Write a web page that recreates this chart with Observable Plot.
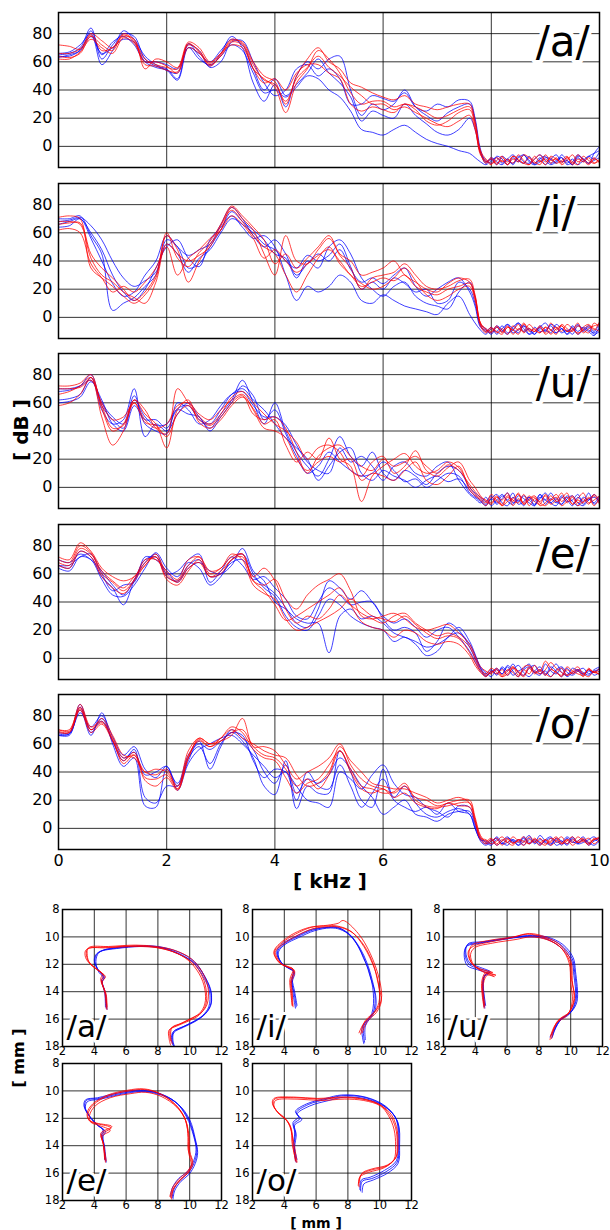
<!DOCTYPE html>
<html><head><meta charset="utf-8">
<script src="https://cdn.jsdelivr.net/npm/d3@7"></script>
<script src="https://cdn.jsdelivr.net/npm/@observablehq/plot@0.6"></script>
<style>
body{margin:0;background:#fff;font-family:"DejaVu Sans",sans-serif;}
#root{position:relative;width:610px;height:1230px;overflow:hidden;background:#fff;}
.lbl{position:absolute;font-weight:bold;color:#000;white-space:nowrap;line-height:1;font-family:"DejaVu Sans",sans-serif;}
</style></head><body><div id="root">
<div class="lbl" style="left:330px;top:881px;transform:translate(-50%,-50%);font-size:20px">[ kHz ]</div>
<div class="lbl" style="left:21px;top:430px;transform:translate(-50%,-50%) rotate(-90deg);font-size:20px">[ dB ]</div>
<div class="lbl" style="left:316px;top:1222.5px;transform:translate(-50%,-50%);font-size:14px">[ mm ]</div>
<div class="lbl" style="left:19px;top:1058px;transform:translate(-50%,-50%) rotate(-90deg);font-size:16px">[ mm ]</div>
</div><script>
// ---------- spectra: frequency grid (kHz) ----------
const freqs = [0,0.2,0.4,0.6,0.8,1,1.2,1.4,1.6,1.8,2,2.2,2.4,2.6,2.8,3,3.2,3.4,3.6,3.8,4,4.2,4.4,4.6,4.8,5,5.2,5.4,5.6,5.8,6,6.2,6.4,6.6,6.8,7,7.2,7.4,7.6,7.7,7.8,7.9,8,8.1,8.2,8.3,8.4,8.5,8.6,8.7,8.8,8.9,9,9.1,9.2,9.3,9.4,9.5,9.6,9.7,9.8,9.9,10];
const dbTicks = [0,20,40,60,80];
const kHzTicks = [0,2,4,6,8,10];
const mmXTicks = [2,4,6,8,10,12];
const mmYTicks = [8,10,12,14,16,18];
const vowelLabels = {a:"/a/", i:"/i/", u:"/u/", e:"/e/", o:"/o/"};

// ---------- /a/ ----------
const a_blue = [
[65,66,70,84,62,72,80,78,62,57,55,48,73,64,57,66,78,70,45,32,44,28,50,60,55,62,64,40,22,30,26,30,40,28,22,18,24,28,30,18,-4,-10,-12,-7,-9,-13,-8,-11,-6,-10,-12,-8,-13,-9,-6,-11,-10,-13,-7,-9,-12,-5,0],
[64,64,68,78,66,70,76,74,60,56,54,47,70,62,58,64,72,68,52,38,40,35,42,50,48,40,35,25,12,10,8,12,15,10,5,2,0,-3,-5,-8,-11,-13,-10,-8,-12,-9,-13,-7,-11,-12,-9,-6,-10,-13,-11,-8,-12,-9,-13,-10,-7,-9,-4],
[66,67,72,80,58,68,82,76,64,58,54,52,72,68,56,60,74,75,60,45,36,40,55,58,50,55,48,30,30,36,34,32,38,28,25,30,28,33,32,20,-2,-11,-9,-13,-7,-10,-12,-8,-6,-11,-13,-9,-7,-12,-10,-8,-13,-11,-6,-9,-12,-10,-8],
[63,65,68,82,65,74,78,72,60,60,58,55,70,66,60,68,76,72,55,40,48,36,44,52,62,52,45,35,18,25,22,20,30,22,16,10,8,12,20,12,-5,-12,-8,-11,-13,-9,-6,-10,-12,-7,-13,-11,-8,-9,-12,-6,-10,-13,-8,-11,-7,-5,-3]];
const a_red = [
[72,71,69,80,75,70,78,76,55,62,60,56,74,70,60,66,75,74,60,50,46,30,50,62,70,60,55,45,42,38,35,33,36,30,28,26,28,30,30,18,-3,-9,-12,-10,-7,-13,-9,-11,-6,-8,-12,-10,-13,-7,-9,-11,-8,-12,-6,-10,-13,-9,-11],
[64,63,66,78,72,68,80,75,62,58,56,55,72,68,58,64,74,72,55,48,42,24,45,55,68,62,52,38,30,32,32,28,30,28,24,20,22,26,28,16,-4,-12,-9,-13,-8,-11,-7,-10,-12,-13,-9,-6,-11,-8,-12,-10,-7,-13,-9,-11,-8,-12,-10],
[62,62,67,76,70,66,77,73,60,60,57,52,70,66,59,66,72,70,55,45,48,40,52,58,58,52,48,30,25,28,26,24,30,26,18,15,18,24,26,14,-6,-10,-13,-8,-11,-9,-12,-6,-10,-13,-7,-11,-9,-12,-8,-13,-10,-6,-11,-9,-12,-8,-12],
[66,66,69,79,68,70,79,74,58,57,54,53,73,67,57,65,76,73,58,47,44,32,48,56,64,56,50,42,36,30,30,26,28,24,20,16,14,18,22,12,-5,-11,-8,-12,-10,-13,-7,-9,-12,-8,-11,-13,-6,-10,-9,-12,-8,-11,-13,-7,-10,-12,-9]];

// ---------- /i/ ----------
const i_blue = [
[70,70,72,58,45,5,10,14,22,30,55,50,35,38,50,62,75,68,62,55,45,42,28,40,35,50,55,45,28,20,15,22,25,15,10,8,6,18,25,14,-5,-8,-11,-6,-9,-12,-7,-4,-10,-8,-12,-6,-9,-11,-5,-8,-10,-7,-12,-9,-6,-10,-4],
[68,69,71,65,55,40,28,22,26,32,52,45,32,42,48,60,70,66,60,52,48,40,35,44,40,44,52,36,20,25,20,28,24,18,20,10,12,25,20,10,-6,-10,-7,-12,-8,-5,-11,-9,-6,-12,-10,-7,-4,-9,-11,-8,-12,-6,-10,-7,-9,-11,-8],
[66,68,70,60,48,30,18,12,20,35,50,55,42,36,55,64,72,64,56,58,50,30,12,22,18,22,30,25,12,10,16,12,8,6,4,2,10,15,2,-4,-9,-12,-8,-10,-6,-11,-9,-4,-8,-12,-7,-10,-9,-6,-11,-8,-12,-9,-5,-10,-7,-12,-10],
[64,65,70,56,40,24,15,18,30,40,58,50,44,48,52,66,78,70,58,50,55,45,30,38,45,40,48,34,25,28,24,30,35,22,15,20,25,28,18,8,-7,-9,-12,-7,-10,-5,-8,-11,-6,-9,-12,-8,-10,-5,-7,-11,-9,-12,-6,-8,-10,-13,-6]];
const i_red = [
[71,72,70,35,28,22,15,10,16,28,58,48,25,40,52,62,78,70,62,45,30,58,40,38,48,56,44,35,20,28,30,32,38,30,22,20,22,26,27,16,-4,-8,-10,-6,-11,-7,-9,-12,-5,-8,-10,-7,-11,-4,-9,-6,-10,-8,-12,-7,-5,-9,-3],
[68,68,66,42,30,25,18,14,10,25,52,45,40,44,50,65,76,68,58,50,45,30,18,30,42,50,38,30,22,25,28,26,30,22,18,16,20,22,24,14,-5,-10,-7,-11,-8,-12,-6,-9,-4,-10,-8,-11,-7,-9,-12,-5,-8,-10,-6,-9,-11,-4,-7],
[66,67,67,45,35,28,20,12,18,30,60,42,36,46,54,66,79,72,64,55,38,45,35,42,50,58,45,40,30,32,35,40,30,25,20,18,24,28,25,15,-4,-9,-11,-7,-10,-6,-12,-8,-10,-5,-9,-11,-7,-12,-8,-6,-10,-9,-4,-11,-8,-6,-5],
[62,63,60,38,28,18,22,18,25,35,50,30,42,48,56,62,72,66,56,42,48,40,32,38,44,48,40,30,24,20,22,28,35,26,16,12,15,20,22,12,-6,-11,-8,-10,-12,-7,-9,-5,-11,-8,-10,-6,-12,-9,-7,-10,-5,-8,-11,-9,-6,-8,-10]];

// ---------- /u/ ----------
const u_blue = [
[62,63,66,78,55,45,48,70,36,45,40,52,60,50,42,52,62,76,60,45,60,40,25,15,8,20,36,22,15,25,10,5,12,8,2,10,15,12,0,-4,-7,-10,-6,-12,-8,-4,-11,-9,-13,-7,-10,-5,-12,-8,-11,-6,-9,-13,-7,-10,-4,-12,-8],
[68,69,72,80,58,48,42,62,50,44,45,56,58,48,45,55,66,70,62,55,45,35,28,20,5,15,25,28,10,5,12,8,5,0,5,8,4,6,-2,-6,-9,-12,-8,-5,-11,-13,-7,-10,-6,-9,-12,-8,-4,-11,-13,-7,-10,-9,-5,-12,-8,-11,-6],
[70,70,72,76,60,50,45,65,45,40,38,60,55,45,48,58,66,68,58,50,50,44,30,18,12,10,28,18,22,15,5,15,18,10,8,15,18,5,-5,-8,-11,-7,-13,-9,-5,-10,-12,-6,-8,-11,-13,-7,-9,-4,-10,-12,-8,-6,-11,-13,-9,-7,-10],
[60,61,64,75,62,45,40,58,48,48,42,55,52,50,40,50,60,72,65,48,55,38,22,10,15,25,18,12,8,10,18,12,4,6,0,5,10,8,-4,-7,-10,-13,-8,-11,-6,-9,-4,-12,-10,-7,-13,-5,-9,-11,-8,-12,-6,-10,-13,-7,-9,-5,-11]];
const u_red = [
[58,60,66,78,50,30,40,62,52,45,28,55,62,46,42,48,58,64,56,45,48,30,18,25,20,35,20,15,-10,8,15,20,24,15,10,12,18,14,0,-5,-8,-11,-5,-9,-13,-7,-10,-4,-12,-8,-6,-11,-13,-9,-5,-10,-7,-12,-8,-4,-11,-9,-6],
[72,72,74,80,56,40,45,62,55,42,38,70,60,50,45,52,64,68,60,52,45,40,32,20,28,30,25,12,8,18,22,10,15,26,12,8,14,18,5,0,-6,-10,-12,-7,-9,-4,-13,-8,-11,-6,-10,-12,-5,-9,-7,-13,-10,-6,-11,-8,-12,-5,-9],
[70,70,71,76,60,48,50,60,48,42,45,58,60,52,48,55,62,66,55,42,40,35,20,12,18,22,18,20,5,10,8,5,12,18,5,2,8,15,-2,-6,-9,-13,-7,-10,-12,-6,-9,-11,-5,-13,-8,-10,-6,-12,-9,-4,-11,-7,-13,-10,-8,-6,-12],
[66,68,72,78,58,42,44,60,46,44,36,52,58,48,44,50,60,65,52,48,50,42,25,10,22,28,30,22,15,12,20,15,18,22,15,10,16,12,2,-3,-7,-9,-11,-6,-13,-10,-8,-5,-12,-9,-7,-13,-11,-6,-10,-8,-4,-12,-9,-11,-7,-13,-8]];

// ---------- /e/ ----------
const e_blue = [
[66,64,76,72,58,50,38,55,68,74,60,62,70,74,54,62,72,66,56,58,50,42,30,28,40,50,45,38,40,40,28,20,22,18,5,12,25,20,8,0,-7,-11,-8,-12,-6,-9,-4,-10,-12,-7,-5,-11,-9,-13,-8,-6,-10,-12,-9,-7,-11,-8,-6],
[70,68,74,70,62,52,45,56,70,72,58,55,66,70,58,60,68,70,58,52,46,36,25,22,35,55,50,42,48,40,30,25,28,22,15,20,22,15,5,-2,-9,-12,-10,-7,-11,-5,-9,-13,-8,-6,-10,-12,-4,-9,-11,-7,-13,-10,-8,-12,-9,-10,-7],
[66,66,72,74,60,48,52,54,72,70,62,54,64,68,62,60,66,78,62,55,40,35,28,25,25,4,30,35,28,30,25,18,15,12,8,10,15,22,12,3,-6,-10,-13,-8,-11,-6,-12,-9,-7,-4,-10,-8,-12,-6,-9,-13,-7,-11,-8,-10,-12,-9,-8],
[64,62,72,70,56,45,44,52,64,75,64,58,68,64,52,58,70,74,60,50,44,30,22,20,30,42,38,30,25,22,20,12,15,10,2,5,15,18,10,2,-7,-13,-9,-11,-7,-12,-8,-5,-10,-13,-9,-6,-11,-8,-4,-10,-12,-7,-9,-11,-8,-12,-10]];
const e_red = [
[72,70,82,76,64,58,55,58,68,72,58,55,66,72,60,64,72,74,55,52,56,42,35,45,52,56,60,48,30,28,30,32,28,22,20,22,24,18,10,2,-6,-9,-11,-7,-12,-8,-10,-13,-6,-5,-9,-11,-8,-3,-7,-10,-12,-9,-6,-11,-8,-10,-7],
[68,66,78,74,62,55,50,58,66,74,60,54,64,68,58,62,70,74,58,64,55,35,25,30,28,35,45,38,32,28,25,30,32,25,20,16,18,15,8,0,-8,-11,-7,-10,-13,-9,-6,-12,-8,-11,-5,-9,-2,-7,-10,-12,-8,-11,-9,-13,-7,-10,-9],
[70,68,80,75,60,54,48,56,70,70,62,56,70,72,62,64,74,70,52,46,42,28,20,22,26,30,35,42,36,30,28,26,30,24,18,14,16,14,4,-3,-9,-12,-10,-8,-13,-11,-7,-9,-12,-6,-10,-8,-11,-13,-9,-7,-12,-10,-8,-11,-13,-9,-12],
[66,64,76,72,58,50,46,55,66,72,56,52,62,70,58,60,70,72,55,48,38,27,30,35,40,45,50,38,26,22,20,15,20,18,12,10,12,10,2,-5,-10,-13,-9,-11,-8,-12,-6,-10,-13,-7,-11,-9,-12,-8,-10,-13,-6,-9,-11,-12,-8,-10,-11]];

// ---------- /o/ ----------
const o_blue = [
[66,66,86,68,78,62,48,56,22,18,30,30,50,58,46,60,68,62,50,30,24,48,14,30,25,25,55,40,20,15,42,22,30,18,10,8,12,14,10,0,-8,-11,-8,-12,-9,-6,-10,-8,-12,-7,-10,-5,-9,-11,-8,-12,-7,-10,-9,-6,-11,-8,-10],
[67,67,84,66,82,60,44,50,16,15,42,32,52,60,56,62,68,66,48,36,42,40,30,20,18,15,40,35,28,38,45,32,24,22,15,12,8,16,15,4,-7,-10,-12,-8,-11,-7,-9,-12,-6,-10,-8,-11,-9,-7,-12,-10,-6,-9,-11,-8,-10,-12,-9],
[68,68,88,70,76,62,50,54,38,40,44,30,48,62,42,58,70,64,56,40,32,45,25,35,32,38,50,42,30,22,10,15,20,10,8,5,10,12,12,2,-9,-12,-9,-7,-11,-10,-8,-12,-9,-5,-11,-8,-10,-12,-7,-9,-11,-6,-10,-8,-12,-9,-7],
[66,67,82,72,80,65,52,58,42,36,44,27,46,56,60,64,66,60,52,44,36,40,20,40,30,28,45,30,15,25,35,20,15,12,15,10,18,12,10,0,-8,-9,-11,-6,-10,-12,-8,-10,-7,-11,-9,-12,-8,-6,-10,-9,-12,-7,-11,-10,-8,-6,-9]];
const o_red = [
[70,69,88,72,76,64,50,52,40,38,42,28,50,64,60,62,66,78,58,58,55,45,35,40,44,50,60,45,35,30,28,25,30,22,20,16,18,20,20,8,-5,-9,-7,-11,-8,-10,-6,-9,-12,-8,-10,-7,-11,-9,-6,-10,-8,-12,-9,-7,-10,-8,-6],
[70,70,86,70,78,66,52,50,40,42,40,30,55,64,60,64,70,64,60,55,52,50,38,30,32,40,58,48,40,32,30,28,28,25,22,18,20,22,18,6,-6,-10,-8,-12,-9,-7,-11,-8,-10,-6,-9,-12,-8,-10,-7,-11,-9,-6,-10,-8,-12,-7,-9],
[68,68,84,68,74,62,48,54,36,35,38,28,52,62,58,62,68,70,58,52,50,42,30,35,28,38,55,42,30,28,25,26,32,20,16,15,16,18,18,6,-7,-8,-11,-9,-6,-10,-12,-8,-9,-11,-7,-10,-8,-12,-9,-6,-11,-8,-10,-9,-7,-11,-8],
[69,68,85,70,75,63,46,52,34,30,36,27,50,63,58,64,72,68,56,50,48,36,25,32,35,45,55,40,28,25,28,22,25,18,15,14,18,16,15,4,-8,-11,-9,-7,-12,-8,-10,-9,-6,-11,-8,-10,-12,-7,-9,-11,-8,-10,-6,-9,-11,-8,-7]];

// ---------- tongue contours [x mm, y mm] ----------
const ta_blue = [
[[4.8,15.3],[4.7,14.2],[4.5,13.3],[4.6,13.0],[4.3,12.6],[4.15,12.2],[4.1,11.8],[4.2,11.3],[4.5,11.0],[5.5,10.8],[6.8,10.65],[8.0,10.7],[9.3,11.1],[10.3,11.8],[10.9,12.8],[11.3,13.9],[11.35,14.9],[11.0,15.6],[10.4,16.1],[9.7,16.5],[9.0,16.9],[8.9,17.5],[9.0,18.0]],
[[4.7,15.1],[4.65,14.0],[4.45,13.2],[4.55,12.9],[4.25,12.4],[4.05,12.0],[4.05,11.6],[4.2,11.2],[4.6,10.95],[5.6,10.75],[7.0,10.7],[8.2,10.8],[9.4,11.3],[10.4,12.0],[11.0,13.0],[11.35,14.0],[11.3,15.0],[10.9,15.7],[10.3,16.2],[9.6,16.6],[9.0,17.0],[8.95,17.6],[9.05,18.0]],
[[4.75,15.2],[4.7,14.1],[4.5,13.25],[4.65,12.95],[4.3,12.5],[4.1,12.1],[4.0,11.7],[4.1,11.3],[4.4,11.05],[5.4,10.85],[6.9,10.7],[8.1,10.75],[9.2,11.15],[10.2,11.85],[10.85,12.9],[11.25,14.0],[11.2,15.1],[10.8,15.75],[10.2,16.2],[9.5,16.6],[8.95,16.95],[8.85,17.5],[8.95,17.9]]];
const ta_red = [
[[4.8,15.3],[4.7,14.1],[4.45,13.2],[4.6,12.8],[4.2,12.4],[3.9,12.1],[3.6,11.7],[3.5,11.1],[3.7,10.75],[4.9,10.7],[6.6,10.6],[7.9,10.7],[9.1,11.0],[10.1,11.6],[10.8,12.6],[11.15,13.7],[11.1,14.9],[10.75,15.5],[10.2,15.9],[9.5,16.3],[8.9,16.6],[8.8,17.3],[8.9,17.8]],
[[4.75,15.2],[4.65,14.0],[4.4,13.1],[4.5,12.7],[4.1,12.3],[3.75,12.0],[3.45,11.5],[3.45,11.0],[3.8,10.8],[5.0,10.75],[6.5,10.65],[7.8,10.75],[9.0,11.1],[9.9,11.7],[10.6,12.7],[10.95,13.8],[10.95,14.9],[10.6,15.6],[10.0,16.0],[9.3,16.4],[8.8,16.7],[8.75,17.2],[8.8,17.6]],
[[4.8,15.1],[4.75,14.2],[4.5,13.3],[4.7,12.9],[4.3,12.5],[3.95,12.2],[3.65,11.8],[3.55,11.2],[3.6,10.85],[4.7,10.8],[6.7,10.7],[8.0,10.8],[9.2,11.2],[10.2,11.9],[10.8,12.9],[11.05,14.0],[11.0,15.0],[10.6,15.7],[10.0,16.1],[9.2,16.5],[8.7,16.8],[8.7,17.4],[8.8,17.9]]];
const ti_blue = [
[[4.75,15.1],[4.6,14.0],[4.45,13.2],[4.6,12.5],[4.3,12.3],[3.9,12.0],[3.6,11.4],[3.6,11.0],[4.0,10.5],[4.8,10.0],[5.8,9.5],[6.8,9.3],[7.4,9.35],[8.1,9.8],[8.65,10.7],[9.0,11.6],[9.3,12.4],[9.6,14.1],[9.5,15.6],[8.9,16.6],[9.0,17.8]],
[[4.7,15.2],[4.55,14.1],[4.5,13.3],[4.65,12.6],[4.35,12.35],[3.95,12.05],[3.65,11.5],[3.65,11.05],[4.05,10.55],[4.9,10.05],[5.9,9.55],[6.9,9.35],[7.5,9.45],[8.2,9.95],[8.8,10.9],[9.2,11.9],[9.45,12.8],[9.7,14.2],[9.6,15.5],[9.0,16.5],[9.05,17.7]],
[[4.8,15.0],[4.65,14.0],[4.5,13.1],[4.55,12.45],[4.25,12.25],[3.85,11.95],[3.55,11.35],[3.55,10.95],[3.95,10.45],[4.75,9.95],[5.75,9.45],[6.75,9.3],[7.35,9.3],[8.0,9.75],[8.6,10.6],[9.1,11.8],[9.4,12.9],[9.75,14.3],[9.7,15.4],[9.1,16.5],[9.1,17.5]]];
const ti_red = [
[[4.5,15.0],[4.45,14.0],[4.4,13.2],[4.6,12.4],[4.25,12.2],[3.76,11.95],[3.4,11.3],[3.4,11.0],[3.9,10.4],[4.7,9.8],[5.7,9.3],[6.7,9.15],[7.4,9.0],[7.7,8.8],[8.65,9.75],[9.4,11.2],[10.0,13.2],[10.1,14.6],[9.75,15.4],[9.1,16.1],[8.8,17.1]],
[[4.55,15.1],[4.5,14.1],[4.45,13.3],[4.65,12.5],[4.3,12.25],[3.85,12.0],[3.5,11.4],[3.45,11.05],[3.95,10.5],[4.8,9.9],[5.8,9.4],[6.8,9.25],[7.5,9.3],[8.3,9.7],[9.0,10.6],[9.6,12.0],[9.9,13.4],[10.1,14.7],[9.8,15.5],[9.2,16.2],[8.9,17.0]],
[[4.5,15.0],[4.4,14.0],[4.35,13.1],[4.55,12.35],[4.2,12.15],[3.7,11.9],[3.35,11.25],[3.4,10.9],[3.85,10.35],[4.6,9.75],[5.6,9.3],[6.6,9.2],[7.3,9.2],[8.2,9.6],[9.0,10.7],[9.7,12.4],[9.95,13.6],[9.95,14.8],[9.6,15.6],[9.0,16.3],[8.7,17.0]]];
const tu_blue = [
[[4.6,15.2],[4.5,13.4],[4.6,12.8],[4.9,12.6],[4.2,12.3],[3.6,12.0],[3.35,11.2],[3.5,10.6],[4.45,10.4],[5.8,10.15],[7.2,9.95],[8.4,10.05],[9.4,10.6],[10.1,11.6],[10.25,12.6],[10.35,14.6],[10.0,15.5],[9.4,16.0],[9.0,16.8],[8.8,17.4]],
[[4.55,15.1],[4.45,13.5],[4.55,12.9],[4.8,12.7],[4.15,12.4],[3.5,12.1],[3.3,11.3],[3.45,10.7],[4.4,10.45],[5.7,10.2],[7.1,10.0],[8.3,10.1],[9.3,10.7],[10.05,11.7],[10.2,12.8],[10.3,14.5],[9.95,15.6],[9.3,16.1],[8.9,16.9],[8.7,17.3]],
[[4.65,15.0],[4.5,13.3],[4.65,12.7],[4.95,12.55],[4.25,12.2],[3.65,11.9],[3.4,11.1],[3.55,10.5],[4.5,10.35],[5.9,10.1],[7.3,9.9],[8.5,10.0],[9.5,10.55],[10.15,11.5],[10.3,12.5],[10.4,14.7],[10.05,15.45],[9.5,15.9],[9.05,16.6],[8.85,17.3]]];
const tu_red = [
[[4.57,15.1],[4.45,13.4],[4.7,12.7],[5.3,12.8],[4.3,12.4],[3.8,11.95],[3.6,11.2],[3.8,10.6],[4.9,10.25],[6.4,10.0],[7.4,9.75],[8.4,10.0],[9.35,10.6],[10.0,11.7],[10.1,13.2],[10.2,14.6],[9.85,15.6],[9.2,16.1],[8.9,16.8],[8.75,17.2]],
[[4.6,15.0],[4.5,13.5],[4.75,12.8],[5.2,12.9],[4.4,12.5],[3.9,12.05],[3.7,11.3],[3.95,10.8],[5.1,10.45],[6.5,10.2],[7.5,10.0],[8.5,10.2],[9.4,10.8],[9.9,11.9],[10.0,13.3],[10.1,14.7],[9.8,15.7],[9.1,16.3],[8.8,17.0],[8.7,17.5]],
[[4.55,15.2],[4.4,13.3],[4.65,12.6],[5.1,12.6],[4.25,12.3],[3.75,11.9],[3.55,11.1],[3.85,10.7],[5.0,10.35],[6.3,10.05],[7.3,9.8],[8.3,10.05],[9.3,10.7],[9.95,11.8],[10.05,13.1],[10.25,14.5],[9.9,15.5],[9.3,16.0],[8.95,16.7],[8.8,17.4]]];
const te_blue = [
[[4.7,15.1],[4.6,14.0],[4.5,13.3],[4.6,12.9],[4.2,12.5],[3.8,12.0],[3.4,11.2],[3.5,10.7],[4.3,10.55],[5.6,10.2],[6.9,10.0],[8.1,10.2],[9.2,10.9],[9.9,12.0],[10.3,13.4],[10.45,14.4],[10.3,15.2],[9.9,16.0],[9.4,16.5],[9.0,17.2],[8.9,17.8]],
[[4.75,15.2],[4.65,14.1],[4.55,13.35],[4.7,12.95],[4.25,12.55],[3.85,12.05],[3.45,11.3],[3.55,10.8],[4.4,10.6],[5.7,10.25],[7.0,10.05],[8.2,10.3],[9.3,11.0],[10.0,12.1],[10.35,13.5],[10.5,14.5],[10.35,15.3],[9.95,16.1],[9.45,16.6],[9.05,17.3],[8.95,17.9]],
[[4.65,15.0],[4.6,13.9],[4.45,13.2],[4.55,12.85],[4.15,12.45],[3.75,11.95],[3.35,11.1],[3.45,10.65],[4.2,10.5],[5.5,10.15],[6.8,9.95],[8.0,10.15],[9.1,10.8],[9.8,11.9],[10.25,13.3],[10.4,14.3],[10.25,15.1],[9.85,15.9],[9.3,16.4],[8.9,17.1],[8.8,17.7]]];
const te_red = [
[[4.7,15.2],[4.57,13.9],[4.45,13.2],[5.06,12.7],[4.2,12.4],[3.7,12.2],[3.6,11.7],[3.96,11.0],[4.9,10.35],[6.2,10.0],[7.15,9.9],[8.1,10.2],[9.1,11.0],[9.7,12.0],[9.95,13.2],[10.0,14.4],[10.2,15.3],[9.95,15.9],[9.5,16.4],[9.0,17.1],[8.85,17.9]],
[[4.75,15.1],[4.6,14.0],[4.5,13.3],[5.0,12.9],[4.25,12.5],[3.8,12.3],[3.7,11.8],[4.05,11.1],[5.0,10.5],[6.3,10.2],[7.2,10.1],[8.2,10.4],[9.2,11.2],[9.75,12.2],[9.9,13.4],[9.95,14.6],[10.1,15.4],[9.85,16.0],[9.4,16.5],[8.95,17.2],[8.8,17.8]],
[[4.65,15.0],[4.55,13.8],[4.4,13.1],[5.1,12.6],[4.15,12.35],[3.65,12.1],[3.55,11.6],[3.9,10.95],[4.85,10.3],[6.1,9.95],[7.1,9.85],[8.05,10.15],[9.0,10.9],[9.65,11.9],[9.9,13.1],[9.9,14.3],[10.15,15.2],[9.9,15.8],[9.45,16.3],[8.95,17.0],[8.75,17.7]]];
const to_blue = [
[[4.75,15.2],[4.6,14.0],[4.7,13.1],[4.6,12.4],[5.0,12.0],[4.75,11.6],[5.5,11.0],[6.7,10.6],[7.7,10.35],[9.15,10.5],[10.4,11.2],[11.1,12.2],[11.2,13.9],[11.1,15.2],[10.4,15.9],[9.5,16.4],[8.9,16.6],[8.8,17.3]],
[[4.7,15.1],[4.65,14.1],[4.75,13.2],[4.65,12.5],[5.1,12.1],[4.8,11.7],[5.6,11.1],[6.8,10.7],[7.8,10.45],[9.2,10.6],[10.5,11.3],[11.15,12.3],[11.25,14.0],[11.15,15.3],[10.5,16.0],[9.6,16.5],[9.0,16.8],[8.9,17.4]],
[[4.8,15.0],[4.6,13.9],[4.65,13.0],[4.55,12.3],[4.9,11.9],[4.7,11.5],[5.4,10.95],[6.6,10.55],[7.6,10.3],[9.1,10.45],[10.35,11.1],[11.05,12.1],[11.15,13.8],[11.05,15.1],[10.3,15.8],[9.4,16.3],[8.85,16.5],[8.75,17.2]]];
const to_red = [
[[4.75,15.2],[4.5,13.9],[4.4,12.7],[4.1,12.1],[3.6,11.6],[3.3,11.0],[3.4,10.6],[4.75,10.5],[6.2,10.6],[7.7,10.5],[8.9,10.6],[10.0,11.0],[10.6,11.7],[11.0,12.7],[11.1,13.9],[11.0,14.9],[10.4,15.5],[9.4,15.8],[8.8,16.15],[8.65,16.9]],
[[4.7,15.1],[4.55,14.0],[4.45,12.8],[4.2,12.2],[3.7,11.7],[3.35,11.1],[3.45,10.7],[4.8,10.6],[6.3,10.7],[7.8,10.6],[9.0,10.7],[10.05,11.1],[10.55,11.8],[10.9,12.8],[11.0,14.0],[10.9,15.0],[10.3,15.6],[9.3,15.95],[8.75,16.3],[8.7,17.0]],
[[4.8,15.2],[4.6,13.8],[4.35,12.6],[4.05,12.0],[3.55,11.5],[3.25,10.9],[3.35,10.55],[4.6,10.45],[6.1,10.55],[7.6,10.45],[8.8,10.55],[9.9,10.95],[10.65,11.6],[11.05,12.6],[11.15,13.8],[11.05,14.8],[10.5,15.4],[9.5,15.7],[8.9,16.0],[8.7,16.7]]];

const SPEC = {a:{blue:a_blue,red:a_red}, i:{blue:i_blue,red:i_red}, u:{blue:u_blue,red:u_red}, e:{blue:e_blue,red:e_red}, o:{blue:o_blue,red:o_red}};
const TONGUE = {a:{blue:ta_blue,red:ta_red}, i:{blue:ti_blue,red:ti_red}, u:{blue:tu_blue,red:tu_red}, e:{blue:te_blue,red:te_red}, o:{blue:to_blue,red:to_red}};

const BLUE = "#0000ff", RED = "#ff0000";
const FONT = "'DejaVu Sans', sans-serif";
const root = document.getElementById("root");
function place(el, left, top){
  el.style.position = "absolute"; el.style.left = left + "px"; el.style.top = top + "px";
  el.style.maxWidth = "none"; el.style.overflow = "visible"; el.style.background = "transparent";
  root.appendChild(el);
}
function specRows(sets){
  const rows = [];
  sets.forEach((arr, j) => arr.forEach((v, i) => rows.push({f: freqs[i], db: v, id: j})));
  return rows;
}
function tongueRows(sets){
  const rows = [];
  sets.forEach((pts, j) => pts.forEach(([x, y]) => rows.push({x, y, id: j})));
  return rows;
}

function specPanel(v, frameTop, last){
  const mt = 6, mb = last ? 30 : 6, H = 155;
  const chart = Plot.plot({
    width: 610, height: H + mt + mb,
    marginLeft: 58, marginRight: 11, marginTop: mt, marginBottom: mb,
    x: {domain: [0, 10], label: null, ...(last ? {} : {axis: null})},
    y: {domain: [-15, 95], label: null},
    style: {fontFamily: FONT, background: "transparent", color: "#000"},
    marks: [
      Plot.gridX([2,4,6,8], {stroke: "#000", strokeOpacity: 0.8, strokeWidth: 1}),
      Plot.gridY(dbTicks, {stroke: "#000", strokeOpacity: 0.8, strokeWidth: 1}),
      Plot.line(specRows(SPEC[v].blue), {x: "f", y: "db", z: "id", stroke: BLUE, strokeOpacity: 0.75, strokeWidth: 1, curve: "catmull-rom", clip: true}),
      Plot.line(specRows(SPEC[v].red), {x: "f", y: "db", z: "id", stroke: RED, strokeOpacity: 0.75, strokeWidth: 1, curve: "catmull-rom", clip: true}),
      Plot.text([vowelLabels[v]], {x: 8.82, y: 74, text: d => d, textAnchor: "start", lineAnchor: "middle", fontSize: 42, fill: "#000", stroke: "#fff", strokeWidth: 8}),
      Plot.axisY(dbTicks, {tickSize: 0, tickPadding: 6, fontSize: 16, label: null}),
      last ? Plot.axisX(kHzTicks, {tickSize: 0, tickPadding: 5, fontSize: 16, label: null}) : null,
      Plot.frame({stroke: "#000", strokeWidth: 1.5})
    ]
  });
  place(chart, 0, frameTop - mt);
}

function tonguePanel(v, frameLeft, frameTop){
  const W = 159, H = 137, ml = 30, mr = 12, mt = 8, mb = 18;
  const chart = Plot.plot({
    width: W + ml + mr, height: H + mt + mb,
    marginLeft: ml, marginRight: mr, marginTop: mt, marginBottom: mb,
    x: {domain: [2, 12], label: null},
    y: {domain: [18, 8], label: null},
    style: {fontFamily: FONT, background: "transparent", color: "#000"},
    marks: [
      Plot.gridX([4,6,8,10], {stroke: "#000", strokeOpacity: 0.8, strokeWidth: 1}),
      Plot.gridY([10,12,14,16], {stroke: "#000", strokeOpacity: 0.8, strokeWidth: 1}),
      Plot.line(tongueRows(TONGUE[v].blue), {x: "x", y: "y", z: "id", stroke: BLUE, strokeOpacity: 0.8, strokeWidth: 1, curve: "catmull-rom", clip: true}),
      Plot.line(tongueRows(TONGUE[v].red), {x: "x", y: "y", z: "id", stroke: RED, strokeOpacity: 0.8, strokeWidth: 1, curve: "catmull-rom", clip: true}),
      Plot.text([vowelLabels[v]], {x: 2.25, y: 16.55, text: d => d, textAnchor: "start", lineAnchor: "middle", fontSize: 31, fill: "#000", stroke: "#fff", strokeWidth: 6}),
      Plot.axisY(mmYTicks, {tickSize: 0, tickPadding: 3, fontSize: 11.5, label: null}),
      Plot.axisX(mmXTicks, {tickSize: 0, tickPadding: 0, fontSize: 11.5, label: null}),
      Plot.frame({stroke: "#000", strokeWidth: 1.5})
    ]
  });
  place(chart, frameLeft - ml, frameTop - mt);
}

specPanel("a", 12, false);
specPanel("i", 182.5, false);
specPanel("u", 353, false);
specPanel("e", 523.5, false);
specPanel("o", 694, true);

tonguePanel("a", 62, 909);
tonguePanel("i", 252, 909);
tonguePanel("u", 443, 909);
tonguePanel("e", 62, 1063);
tonguePanel("o", 252, 1063);
</script></body></html>
